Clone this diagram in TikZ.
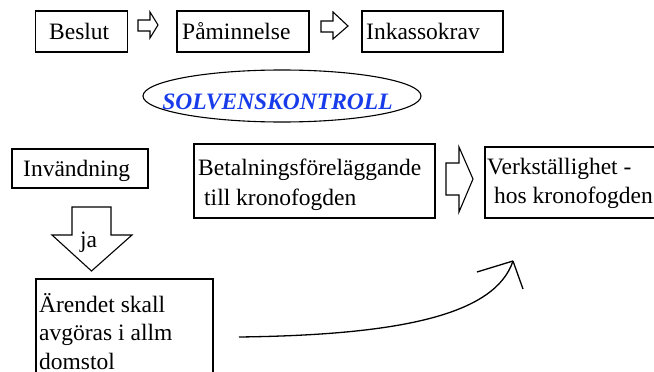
\documentclass[tikz,border=0pt]{standalone}
\usepackage{fontspec}
\setmainfont{Liberation Serif}
\usetikzlibrary{shapes.geometric}
\definecolor{solvblue}{RGB}{25,60,235}
\begin{document}
\begin{tikzpicture}[x=1pt,y=-1pt,
  every node/.style={font=\fontsize{23.5}{29}\selectfont},
  box/.style={draw,line width=1.1pt,inner sep=0pt},
  txt/.style={inner sep=0pt,anchor=base west,align=left},
  blockarrow/.style={draw,line width=1.1pt,line join=miter},
  curvearrow/.style={line width=1.3pt}]
\useasboundingbox (0,0) rectangle (654,372);
\clip (0,0) rectangle (654,372);
% top row boxes
\node[box,minimum width=92pt,minimum height=41pt] (beslut) at (81.5,31.5) {};
\node[txt] (beslutT) at (49,39) {Beslut};
\node[box,minimum width=132pt,minimum height=41pt] (pamin) at (243,31.5) {};
\node[txt] (paminT) at (182,39) {Påminnelse};
\node[box,minimum width=141pt,minimum height=41pt] (inkasso) at (432.5,31.5) {};
\node[txt] (inkassoT) at (366,39) {Inkassokrav};
% small block arrows
\draw[blockarrow] (138,20) -- (150,20) -- (150,12) -- (158,25) -- (150,38) -- (150,31) -- (138,31) -- cycle;
\draw[blockarrow] (321,21) -- (333,21) -- (333,12) -- (348,26) -- (333,39) -- (333,32) -- (321,32) -- cycle;
% ellipse
\node[draw,ellipse,line width=1.1pt,minimum width=278pt,minimum height=52pt,inner sep=0pt] (solv) at (282,96) {};
\node[inner sep=0pt,anchor=base,text=solvblue,font=\fontsize{23.5}{29}\selectfont\bfseries\itshape] (solvT) at (277.5,109) {SOLVENSKONTROLL};
% middle row
\node[box,minimum width=136pt,minimum height=39pt] (invand) at (80,168.5) {};
\node[txt] (invandT) at (23,176) {Invändning};
\node[box,minimum width=241pt,minimum height=74pt] (betal) at (314.5,181) {};
\node[txt,font=\fontsize{23.5}{29.5}\selectfont] (betalT) at (198,205) {Betalningsföreläggande\\\hspace*{6pt}till kronofogden};
\draw[blockarrow] (446,163) -- (459,163) -- (459,147) -- (473,179) -- (459,212) -- (459,195) -- (446,195) -- cycle;
\node[box,minimum width=200pt,minimum height=71pt] (verk) at (585,182.5) {};
\node[txt] (verkT) at (487,203) {Verkställighet -\\\hspace*{7pt}hos kronofogden};
% down arrow with ja
\draw[blockarrow] (72,207) -- (111,207) -- (111,235) -- (132,235) -- (91.5,271) -- (52,235) -- (72,235) -- cycle;
\node[inner sep=0pt,anchor=base] (ja) at (88.5,247) {ja};
% bottom box
\node[box,minimum width=177pt,minimum height=110pt] (arende) at (124.5,334) {};
\node[txt,font=\fontsize{23.5}{28.5}\selectfont] (arendeT) at (39,369) {Ärendet skall\\avgöras i allm\\domstol};
% curved arrow
\coordinate (cs) at (239,337);
\coordinate (ce) at (513,261);
\draw[curvearrow] (cs) .. controls (400,335) and (495,315) .. (ce);
\draw[curvearrow] (ce) -- ++(-36,11);
\draw[curvearrow] (ce) -- ++(10,28);
\end{tikzpicture}
\end{document}
